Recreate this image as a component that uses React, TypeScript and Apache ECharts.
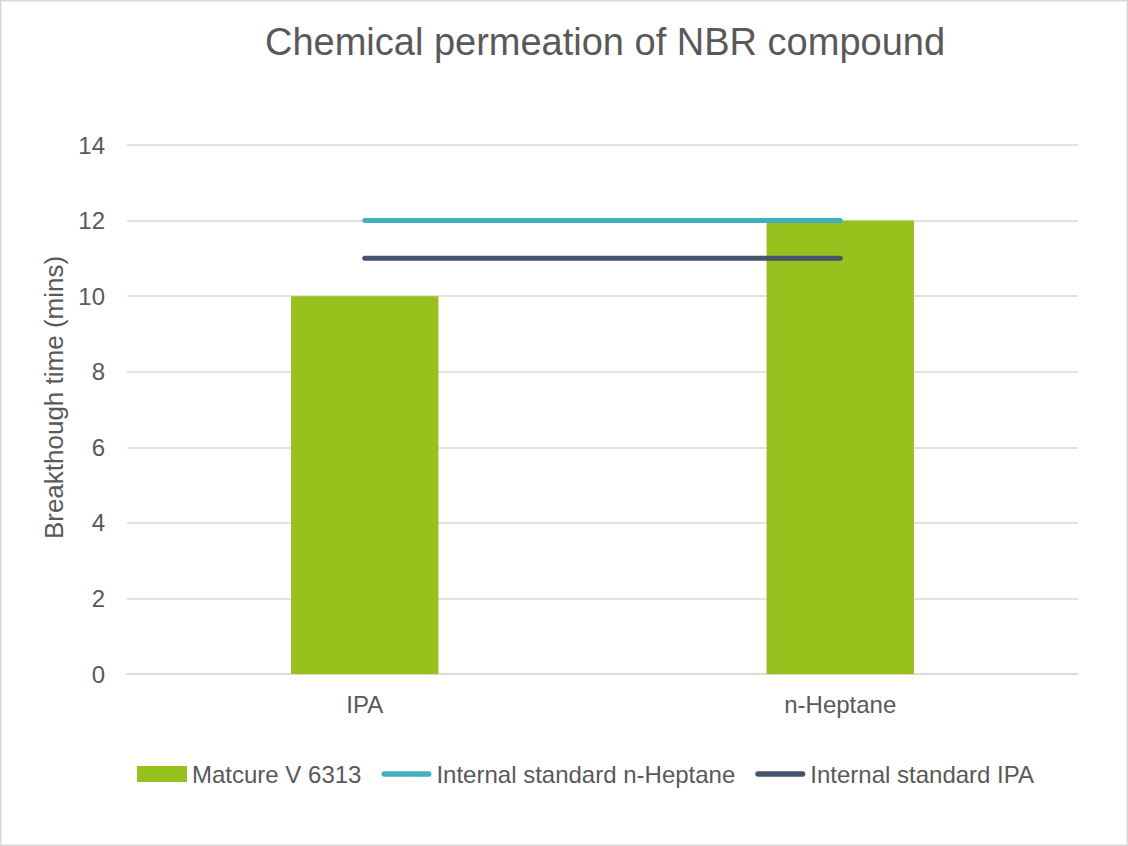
import { useEffect, useRef } from "react";
import * as echarts from "echarts";

const categories = ["IPA", "n-Heptane"];
const matcureValues = [10, 12];
const heptaneStandard = [12, 12];
const ipaStandard = [11, 11];

const textColor = "#595959";
const font = "'Liberation Sans', Arial, sans-serif";

// thin rounded bar inside a 50x16 box, so the legend keeps its shape
const lineIcon =
  "path://M0,0 M50,16 M2.75,5.25 H47.25 A2.75,2.75 0 0 1 47.25,10.75 H2.75 A2.75,2.75 0 0 1 2.75,5.25 Z";

export default function App() {
  const chartRef = useRef<HTMLDivElement>(null);

  useEffect(() => {
    if (!chartRef.current) return;
    document.body.style.margin = "0";

    const chart = echarts.init(chartRef.current, null, { renderer: "svg" });

    const option = {
      animation: false,
      backgroundColor: "#ffffff",
      textStyle: { fontFamily: font, color: textColor },
      title: {
        text: "Chemical permeation of NBR compound",
        left: 600,
        textAlign: "center",
        top: 18,
        textStyle: { fontFamily: font, fontSize: 38, fontWeight: "normal", color: textColor },
      },
      // chart frame
      graphic: [
        {
          type: "rect",
          silent: true,
          shape: { x: 0.75, y: 0.75, width: 1126.5, height: 844.5 },
          style: { fill: "none", stroke: "#d9d9d9", lineWidth: 1.5 },
        },
      ],
      grid: { left: 127, right: 50, top: 145, bottom: 172 },
      legend: {
        bottom: 55,
        left: 132,
        itemWidth: 50,
        itemHeight: 16,
        itemGap: 20,
        textStyle: { fontFamily: font, fontSize: 24, color: textColor },
        data: [
          { name: "Matcure V 6313", icon: "rect" },
          { name: "Internal standard n-Heptane", icon: lineIcon },
          { name: "Internal standard IPA", icon: lineIcon },
        ],
      },
      xAxis: {
        type: "category",
        data: categories,
        axisLine: { lineStyle: { color: "#d9d9d9", width: 1.5 } },
        axisTick: { show: false },
        axisLabel: { color: textColor, fontSize: 24, fontFamily: font, margin: 18 },
      },
      yAxis: {
        type: "value",
        min: 0,
        max: 14,
        interval: 2,
        name: "Breakthough time (mins)",
        nameLocation: "middle",
        nameGap: 57,
        nameTextStyle: { color: textColor, fontSize: 26, fontFamily: font, padding: [0, 0, 0, 24] },
        axisLabel: { color: textColor, fontSize: 24, fontFamily: font, margin: 22 },
        splitLine: { lineStyle: { color: "#d9d9d9", width: 1.5 } },
        axisLine: { show: false },
        axisTick: { show: false },
      },
      series: [
        {
          name: "Matcure V 6313",
          type: "bar",
          data: matcureValues,
          barWidth: "31%",
          itemStyle: { color: "#97c21e" },
          z: 2,
        },
        {
          name: "Internal standard n-Heptane",
          type: "line",
          data: heptaneStandard,
          symbol: "none",
          lineStyle: { color: "#42b0c1", width: 5, cap: "round" },
          itemStyle: { color: "#42b0c1" },
          z: 3,
        },
        {
          name: "Internal standard IPA",
          type: "line",
          data: ipaStandard,
          symbol: "none",
          lineStyle: { color: "#44546a", width: 5, cap: "round" },
          itemStyle: { color: "#44546a" },
          z: 3,
        },
      ],
    };

    chart.setOption(option);

    return () => {
      chart.dispose();
    };
  }, []);

  return <div ref={chartRef} style={{ width: 1128, height: 846 }} />;
}
